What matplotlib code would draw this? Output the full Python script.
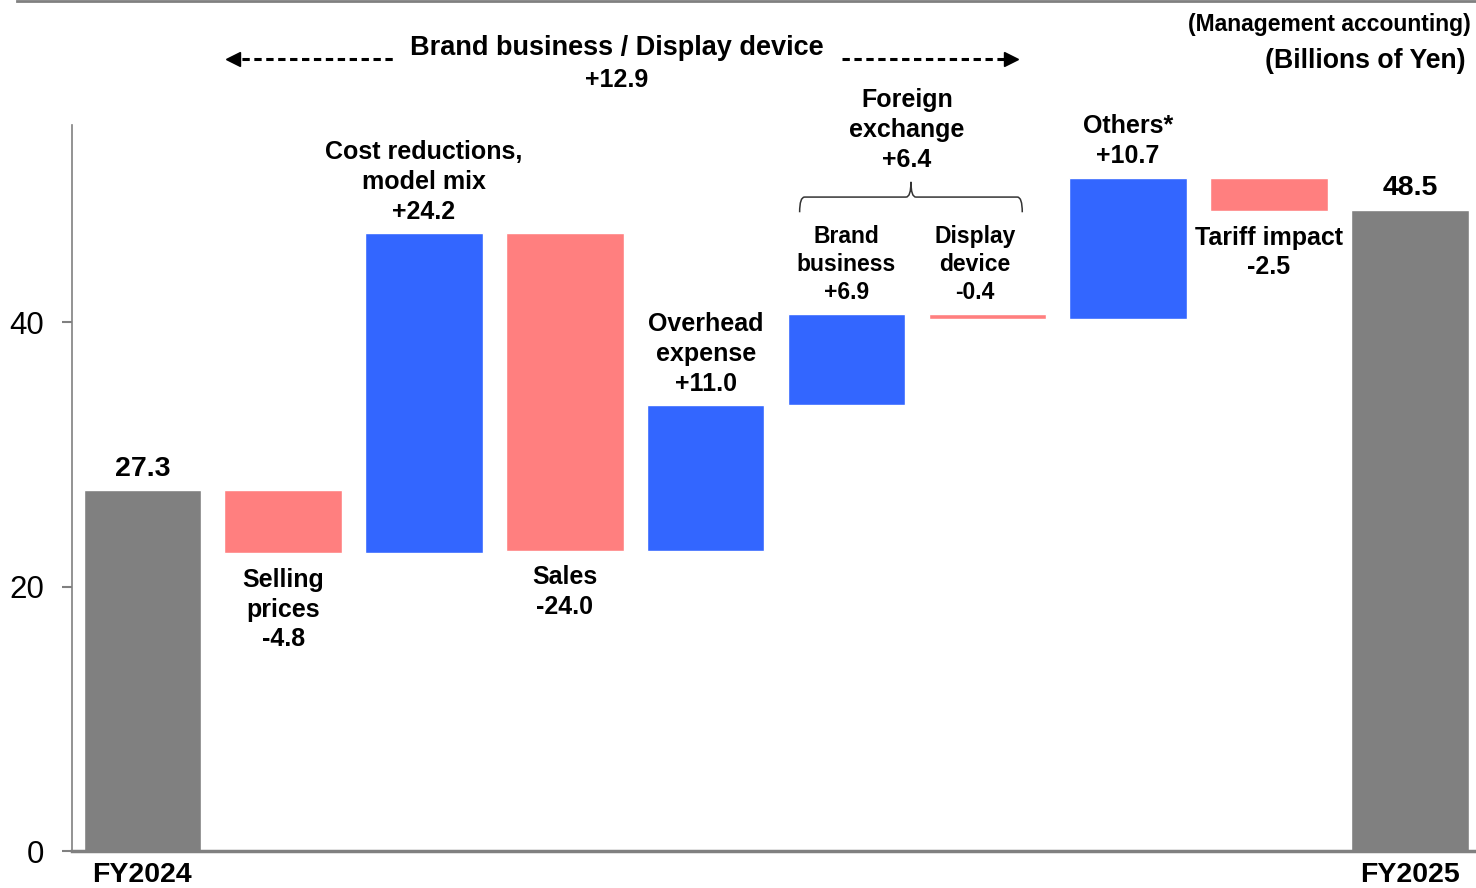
import numpy as np
import matplotlib
matplotlib.use("Agg")
import matplotlib.pyplot as plt
from matplotlib.lines import Line2D
from matplotlib.path import Path
from matplotlib.patches import PathPatch

plt.rcParams["font.family"] = ["Liberation Sans", "DejaVu Sans"]

# operating income bridge, billions of yen
start_label = "FY2024"
end_label = "FY2025"
start_value = 27.3
end_value = 48.5
step_labels = ["Selling\nprices", "Cost reductions,\nmodel mix", "Sales",
               "Overhead\nexpense", "Brand\nbusiness", "Display\ndevice",
               "Others*", "Tariff impact"]
step_changes = [-4.8, 24.2, -24.0, 11.0, 6.9, -0.4, 10.7, -2.5]
label_side = ["below", "above", "below", "above", "above", "above", "above", "below"]
small_labels = ["Brand\nbusiness", "Display\ndevice"]
group_title = "Brand business / Display device"
group_total = 12.9
fx_label = "Foreign\nexchange"
fx_total = 6.4
yticks = [0, 20, 40]

GRAY = "#808080"
BLUE = "#3366FF"
PINK = "#FF7F7F"

fig = plt.figure(figsize=(14.76, 8.88), dpi=100)
ax = fig.add_axes([72 / 1476, 37 / 888, 1 - 72 / 1476, 726 / 888])

width = 0.835
n = len(step_changes)
x = np.arange(n + 2)

# totals
ax.bar([x[0], x[-1]], [start_value, end_value], width=width, color=GRAY,
       edgecolor="white", linewidth=1, zorder=2)

# floating steps
level = start_value
tops, bottoms = [], []
for i, chg in enumerate(step_changes):
    new = level + chg
    lo, hi = min(level, new), max(level, new)
    ax.bar(x[i + 1], hi - lo, bottom=lo, width=width,
           color=BLUE if chg > 0 else PINK, edgecolor="white", linewidth=1, zorder=2)
    tops.append(hi)
    bottoms.append(lo)
    level = new

bold = dict(fontweight="bold", ha="center", color="black")

for i, (lab, chg, side) in enumerate(zip(step_labels, step_changes, label_side)):
    txt = f"{lab}\n{chg:+.1f}"
    fs = 16.5 if lab in small_labels else 18
    # the display device note sits a little left of its thin bar
    xoff = -9 if lab == "Display\ndevice" else 0
    if side == "above":
        ax.annotate(txt, (x[i + 1], tops[i]), xytext=(xoff, 7), textcoords="offset points",
                    va="bottom", fontsize=fs, linespacing=1.3, annotation_clip=False, **bold)
    else:
        ax.annotate(txt, (x[i + 1], bottoms[i]), xytext=(xoff, -10.5), textcoords="offset points",
                    va="top", fontsize=fs, linespacing=1.3, annotation_clip=False, **bold)

ax.annotate(f"{start_value:.1f}", (x[0], start_value), xytext=(0, 6),
            textcoords="offset points", va="bottom", fontsize=20.5, **bold)
ax.annotate(f"{end_value:.1f}", (x[-1], end_value), xytext=(0, 6),
            textcoords="offset points", va="bottom", fontsize=20.5, **bold)

# brace over the foreign exchange pair
bl, br = 4.667, 6.248
bm = (bl + br) / 2
y0, y1, y2 = 48.3, 49.45, 50.6
dx = 0.035
verts = [(bl, y0), (bl, y1), (bl + dx, y1),
         (bm - dx, y1), (bm, y1), (bm, y2),
         (bm, y1), (bm + dx, y1),
         (br - dx, y1), (br, y1), (br, y0)]
codes = [Path.MOVETO, Path.CURVE3, Path.CURVE3,
         Path.LINETO, Path.CURVE3, Path.CURVE3,
         Path.CURVE3, Path.CURVE3,
         Path.LINETO, Path.CURVE3, Path.CURVE3]
ax.add_patch(PathPatch(Path(verts, codes), fill=False, lw=1.1, color="#333333",
                       clip_on=False))
ax.text(5.43, y2 + 0.72, f"{fx_label}\n{fx_total:+.1f}", va="bottom", fontsize=18,
        linespacing=1.33, clip_on=False, **bold)

# group header with dashed arrows
ay = 59.9
ax.plot([0.62, 1.78], [ay, ay], ls=(0, (2.4, 1.5)), lw=2.2, color="black",
        clip_on=False, dash_capstyle="butt")
ax.plot([4.97, 6.17], [ay, ay], ls=(0, (2.4, 1.5)), lw=2.2, color="black",
        clip_on=False, dash_capstyle="butt")
ax.plot([0.64], [ay], marker="<", ms=10, color="black", clip_on=False)
ax.plot([6.17], [ay], marker=">", ms=10, color="black", clip_on=False)
ax.text(3.37, 60.7, group_title, va="center", fontsize=19.5, clip_on=False, **bold)
ax.text(3.37, 58.3, f"{group_total:+.1f}", va="center", fontsize=18, clip_on=False, **bold)

fig.text(1471 / 1476, 1 - 25 / 888, "(Management accounting)", ha="right", va="center",
         fontsize=16.5, fontweight="bold")
fig.text(1466 / 1476, 1 - 61 / 888, "(Billions of Yen)", ha="right", va="center",
         fontsize=19.2, fontweight="bold")
fig.add_artist(Line2D([17 / 1476, 1], [1 - 1.5 / 888, 1 - 1.5 / 888], color=GRAY, lw=2))

ax.set_xlim(-0.5, 9.47)
ax.set_ylim(0, 54.9)
ax.set_yticks(yticks)
ax.set_xticks([x[0], x[-1]])
ax.set_xticklabels([start_label, end_label], fontsize=20.5, fontweight="bold")
ax.tick_params(axis="x", length=0, pad=8)
ax.tick_params(axis="y", length=7, width=1.5, color=GRAY, pad=13, labelsize=22.5)
for s in ["top", "right"]:
    ax.spines[s].set_visible(False)
ax.spines["left"].set_color(GRAY)
ax.spines["left"].set_linewidth(1.2)
ax.spines["bottom"].set_color(GRAY)
ax.spines["bottom"].set_linewidth(2.5)

fig.savefig("out.png", dpi=100)
